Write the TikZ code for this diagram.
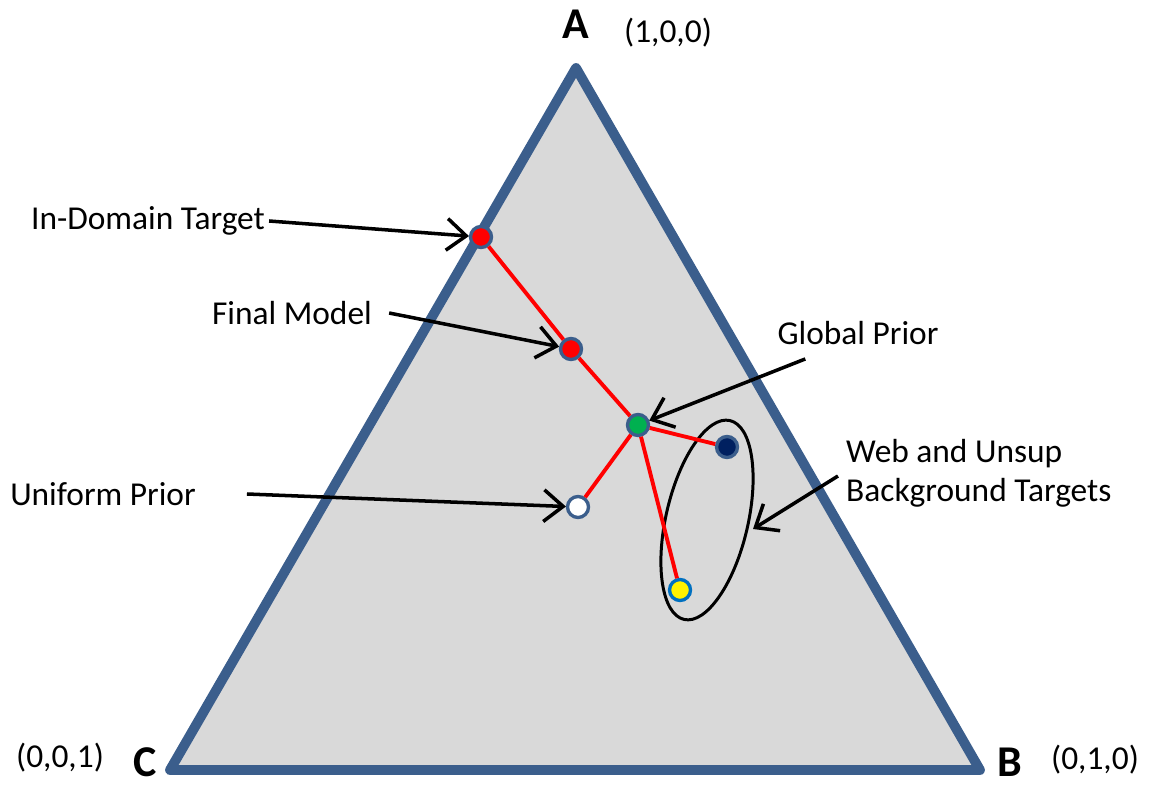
\documentclass[tikz,border=0pt]{standalone}
\usepackage{fontspec}
\setmainfont{Carlito}
\usepackage{tikz}
\usetikzlibrary{shapes.geometric,arrows.meta,positioning,calc}

\definecolor{frameBlue}{HTML}{3B5E8C}
\definecolor{fillGray}{HTML}{D9D9D9}
\definecolor{darkNavy}{HTML}{002060}
\definecolor{priorGreen}{HTML}{00B050}
\definecolor{ringBlue}{HTML}{0070C0}

\begin{document}
\begin{tikzpicture}[
    x=0.01cm, y=-0.01cm,
    font=\fontsize{9.5}{11}\selectfont,
    dotNode/.style={
        circle, draw=frameBlue, line width=0.95pt, fill=#1,
        minimum size=0.21cm, inner sep=0pt, outer sep=0.45pt
    },
    linkLine/.style={draw=red, line width=1.1pt},
    pointerArrow/.style={
        -{Straight Barb[length=5.5pt, width=9pt, line width=1pt]}, line width=1pt, draw=black
    },
    cornerLabel/.style={font=\fontsize{12.5}{14}\selectfont\bfseries, inner sep=0pt},
    coordLabel/.style={inner sep=1pt},
    textLabel/.style={inner sep=1pt, align=left}
]

\useasboundingbox (0,0) rectangle (1151,785);

% Simplex
\coordinate (A) at (576,68);
\coordinate (B) at (980,770);
\coordinate (C) at (170,770);
\draw[fill=fillGray, draw=frameBlue, line width=2.8pt, line join=round] (A) -- (B) -- (C) -- cycle;

\node[cornerLabel] (aLbl) at (576,24) {A};
\node[coordLabel] (aCoord) at (668,33) {(1,0,0)};
\node[cornerLabel] (bLbl) at (1010,762) {B};
\node[coordLabel] (bCoord) at (1095,760) {(0,1,0)};
\node[cornerLabel] (cLbl) at (145,762) {C};
\node[coordLabel] (cCoord) at (60,758) {(0,0,1)};

% Background cluster
\node[ellipse, draw=black, line width=0.85pt, minimum width=0.82cm, minimum height=2.04cm,
      inner sep=0pt, rotate=-13] (cluster) at (707,520) {};

% Points
\node[dotNode=red] (inDomain) at (481,237) {};
\node[dotNode=red] (finalModel) at (571,349) {};
\node[dotNode=priorGreen] (globalPrior) at (638,425) {};
\node[dotNode=darkNavy] (webTarget) at (727,447) {};
\node[dotNode=white] (uniformPrior) at (578,507) {};
\node[dotNode=yellow, draw=ringBlue] (unsupTarget) at (680,590) {};

% Red path
\draw[linkLine] (inDomain) -- (finalModel) -- (globalPrior) -- (webTarget);
\draw[linkLine] (globalPrior) -- (uniformPrior);
\draw[linkLine] (globalPrior) -- (unsupTarget);

% Labels
\node[textLabel] (inDomainLbl) at (148,221) {In-Domain Target};
\node[textLabel] (finalLbl) at (292,313) {Final Model};
\node[textLabel] (globalLbl) at (858,333) {Global Prior};
\node[textLabel] (uniformLbl) at (103,494) {Uniform Prior};
\node[textLabel, anchor=west] (webLbl) at (842,473) {Web and Unsup\\Background Targets};

% Pointers
\draw[pointerArrow] (inDomainLbl.east) -- (inDomain);
\draw[pointerArrow] ($(finalLbl.east)+(13,0)$) -- (finalModel);
\draw[pointerArrow] ($(globalLbl.south west)+(32,10)$) -- (globalPrior);
\draw[pointerArrow] ($(uniformLbl.east)+(47,0)$) -- (uniformPrior);
\draw[pointerArrow] ($(webLbl.west)+(-4,3)$) -- (753,529);

\end{tikzpicture}
\end{document}
